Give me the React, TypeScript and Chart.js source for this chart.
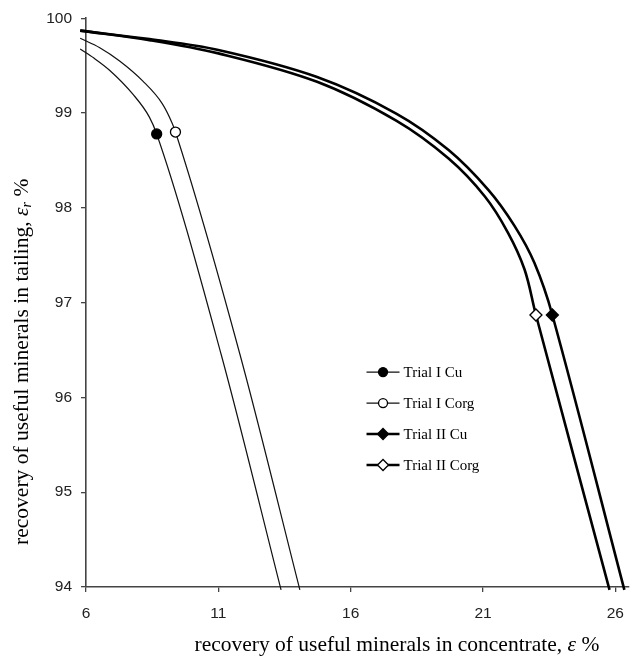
import { useEffect, useRef } from "react";
import { Chart, registerables } from "chart.js";

Chart.register(...registerables);

// ---------- data ----------
const xTicks = [6, 11, 16, 21, 26];
const yTicks = [94, 95, 96, 97, 98, 99, 100];

const seriesLabels = ["Trial I Cu", "Trial I Corg", "Trial II Cu", "Trial II Corg"];

const trialICuX = [5.78, 6.3, 6.9, 7.77, 8.39, 8.67, 11.11, 13.37];
const trialICuY = [99.675, 99.58, 99.45, 99.2, 98.96, 98.78, 96.45, 93.97];

const trialICorgX = [5.78, 6.52, 7.27, 8.14, 8.88, 9.26, 9.38, 11.82, 14.08];
const trialICorgY = [99.79, 99.69, 99.55, 99.34, 99.1, 98.89, 98.8, 96.45, 93.97];

const trialIICuX = [5.78, 8.4, 11.0, 14.73, 17.72, 19.7, 21.2, 22.19, 22.94, 23.62, 26.34];
const trialIICuY = [99.87, 99.78, 99.665, 99.38, 98.995, 98.61, 98.19, 97.81, 97.42, 96.87, 93.97];

const trialIICorgX = [5.78, 8.4, 11.0, 14.73, 17.72, 19.7, 21.07, 21.94, 22.57, 23.0, 25.78];
const trialIICorgY = [99.87, 99.77, 99.63, 99.33, 98.92, 98.52, 98.12, 97.74, 97.35, 96.87, 93.97];

// index of the single marked point in each series
const markerIndex = [5, 6, 9, 9];

const seriesX = [trialICuX, trialICorgX, trialIICuX, trialIICorgX];
const seriesY = [trialICuY, trialICorgY, trialIICuY, trialIICorgY];

// ---------- styles ----------
const styles = [
  { color: "#111", width: 1.2, shape: "circle", fill: "#000", radius: 5, legendRadius: 4.5, tension: 0 },
  { color: "#111", width: 1.2, shape: "circle", fill: "#fff", radius: 5, legendRadius: 4.5, tension: 0 },
  { color: "#000", width: 2.6, shape: "rectRot", fill: "#000", radius: 6, legendRadius: 5.5, tension: 0.35 },
  { color: "#000", width: 2.6, shape: "rectRot", fill: "#fff", radius: 6, legendRadius: 5.5, tension: 0.35 },
];

const AXIS_COLOR = "#444";
const SERIF = '"Liberation Serif", "Times New Roman", serif';
const SANS = '"Liberation Sans", Arial, sans-serif';

function drawMarker(ctx: CanvasRenderingContext2D, shape: string, x: number, y: number, r: number, fill: string) {
  ctx.beginPath();
  if (shape === "circle") {
    ctx.arc(x, y, r, 0, Math.PI * 2);
  } else {
    ctx.moveTo(x - r, y);
    ctx.lineTo(x, y - r);
    ctx.lineTo(x + r, y);
    ctx.lineTo(x, y + r);
    ctx.closePath();
  }
  ctx.fillStyle = fill;
  ctx.fill();
  ctx.lineWidth = 1.3;
  ctx.strokeStyle = "#000";
  ctx.stroke();
}

type Seg = { t: string; font: string; dy?: number };

function drawSegments(ctx: CanvasRenderingContext2D, segs: Seg[], cx: number, cy: number) {
  let total = 0;
  for (const s of segs) {
    ctx.font = s.font;
    total += ctx.measureText(s.t).width;
  }
  let x = cx - total / 2;
  ctx.textBaseline = "middle";
  ctx.textAlign = "left";
  for (const s of segs) {
    ctx.font = s.font;
    ctx.fillText(s.t, x, cy + (s.dy || 0));
    x += ctx.measureText(s.t).width;
  }
}

const decorPlugin = {
  id: "decor",
  afterDraw(chart: any) {
    const { ctx, chartArea } = chart;
    const w = chartArea.right - chartArea.left;
    const h = chartArea.bottom - chartArea.top;
    ctx.save();
    ctx.fillStyle = "#000";

    // axis titles
    const normal = `21.5px ${SERIF}`;
    const italic = `italic 21.5px ${SERIF}`;
    drawSegments(
      ctx,
      [
        { t: "recovery of useful minerals in concentrate, ", font: normal },
        { t: "ε", font: italic },
        { t: " %", font: normal },
      ],
      chartArea.left + 0.573 * w,
      chartArea.bottom + 58
    );
    ctx.save();
    ctx.translate(chartArea.left - 64, chartArea.top + 0.604 * h);
    ctx.rotate(-Math.PI / 2);
    drawSegments(
      ctx,
      [
        { t: "recovery of useful minerals in tailing, ", font: normal },
        { t: "ε", font: italic },
        { t: "r", font: `italic 14px ${SERIF}`, dy: 5 },
        { t: " %", font: normal },
      ],
      0,
      0
    );
    ctx.restore();

    // legend inside plot area
    const x0 = chartArea.left + 0.517 * w;
    const y0 = chartArea.top + 0.622 * h;
    const rowH = 31;
    chart.data.datasets.forEach((ds: any, i: number) => {
      const st = styles[i];
      const y = y0 + i * rowH;
      ctx.beginPath();
      ctx.strokeStyle = st.color;
      ctx.lineWidth = st.width;
      ctx.moveTo(x0, y);
      ctx.lineTo(x0 + 33, y);
      ctx.stroke();
      drawMarker(ctx, st.shape, x0 + 16.5, y, st.legendRadius, st.fill);
      ctx.fillStyle = "#000";
      ctx.font = `15px ${SERIF}`;
      ctx.textBaseline = "middle";
      ctx.textAlign = "left";
      ctx.fillText(ds.label, x0 + 37, y + 1);
    });
    ctx.restore();
  },
};

export default function App() {
  const canvasRef = useRef<HTMLCanvasElement | null>(null);

  useEffect(() => {
    if (!canvasRef.current) return;
    const datasets = seriesLabels.map((label, i) => {
      const st = styles[i];
      return {
        label,
        data: seriesX[i].map((x, j) => ({ x, y: seriesY[i][j] })),
        borderColor: st.color,
        borderWidth: st.width,
        fill: false,
        cubicInterpolationMode: (st.tension > 0 ? "default" : "monotone") as any,
        tension: st.tension,
        pointRadius: seriesX[i].map((_, j) => (j === markerIndex[i] ? st.radius : 0)),
        pointStyle: st.shape as any,
        pointBackgroundColor: st.fill,
        pointBorderColor: "#000",
        pointBorderWidth: 1.3,
        clip: false as any,
      };
    });

    const chart = new Chart(canvasRef.current, {
      type: "line",
      data: { datasets },
      options: {
        animation: false,
        responsive: true,
        maintainAspectRatio: false,
        events: [],
        layout: { padding: { top: 14, right: 1, left: 0, bottom: 0 } },
        plugins: {
          legend: { display: false },
          tooltip: { enabled: false },
        },
        scales: {
          x: {
            type: "linear",
            min: 6,
            max: 26.5,
            afterBuildTicks: (scale: any) => {
              scale.ticks = xTicks.map((v) => ({ value: v }));
            },
            afterFit: (scale: any) => {
              scale.height = 71;
            },
            grid: {
              drawOnChartArea: false,
              drawTicks: true,
              tickLength: 5,
              color: AXIS_COLOR,
              lineWidth: 1.3,
            },
            border: { display: true, color: AXIS_COLOR, width: 1.6 },
            ticks: {
              font: { family: SANS, size: 15.5 },
              color: "#222",
              padding: 12,
              maxRotation: 0,
              autoSkip: false,
            },
          },
          y: {
            type: "linear",
            min: 94,
            max: 100,
            afterBuildTicks: (scale: any) => {
              scale.ticks = yTicks.map((v) => ({ value: v }));
            },
            afterFit: (scale: any) => {
              scale.width = 86;
            },
            grid: {
              drawOnChartArea: false,
              drawTicks: true,
              tickLength: 5,
              color: AXIS_COLOR,
              lineWidth: 1.3,
            },
            border: { display: true, color: AXIS_COLOR, width: 1.6 },
            ticks: {
              font: { family: SANS, size: 15.5 },
              color: "#222",
              padding: 9,
              autoSkip: false,
            },
          },
        },
      },
      plugins: [decorPlugin],
    });
    return () => chart.destroy();
  }, []);

  return (
    <div style={{ position: "absolute", left: 0, top: 0, width: 636, height: 658, background: "#fff" }}>
      <canvas ref={canvasRef} />
    </div>
  );
}
